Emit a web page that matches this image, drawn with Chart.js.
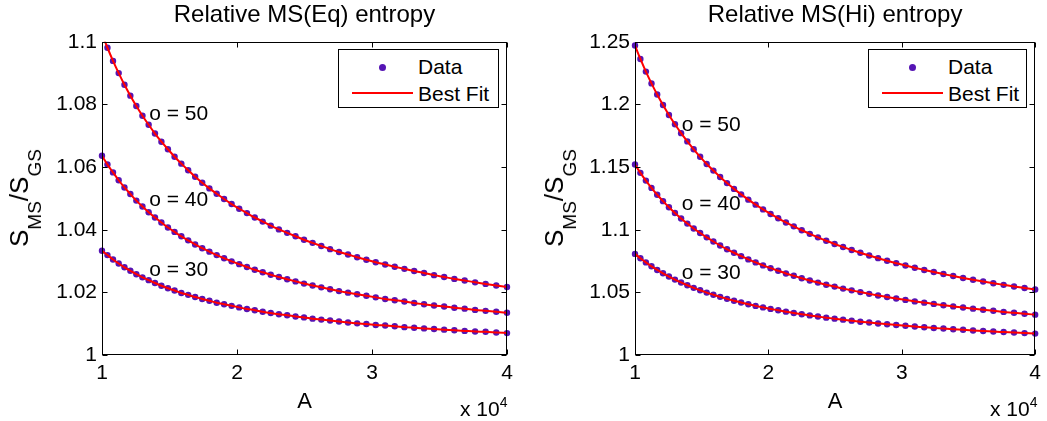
<!DOCTYPE html>
<html>
<head>
<meta charset="utf-8">
<title>Relative MS entropy</title>
<script src="https://cdn.jsdelivr.net/npm/chart.js@4.4.1/dist/chart.umd.min.js"></script>
<style>
  body { margin: 0; background: #fff; font-family: "Liberation Sans", Arial, sans-serif; color: #000; }
  #wrap { position: relative; width: 1047px; height: 421px; overflow: hidden; background: #fff; }
  canvas { position: absolute; top: 0; }
  .ylab { position: absolute; font-size: 26px; line-height: 26px; white-space: nowrap;
          transform: translate(-50%, -50%) rotate(-90deg); }
  .ylab sub { font-size: 19px; vertical-align: -13px; line-height: 19px; }
  .legend { position: absolute; top: 49px; height: 59px; box-sizing: border-box;
            border: 1px solid #000; background: #fff; font-size: 21px; }
  .legend .dot { position: absolute; left: 40px; top: 14px; width: 7px; height: 7px;
                 border-radius: 50%; background: #5514b4; }
  .legend .line { position: absolute; left: 13px; top: 42px; width: 61px; height: 2px; background: #ff0000; }
  .legend .txt { position: absolute; left: 79px; line-height: 24px; }
  .exp { position: absolute; top: 398px; font-size: 21px; line-height: 21px; white-space: nowrap; }
  .exp span { font-size: 14px; position: relative; top: -9px; }
</style>
</head>
<body>
<div id="wrap">
  <canvas id="eqChart" width="523" height="421" style="left:0px"></canvas>
  <canvas id="hiChart" width="524" height="421" style="left:523px"></canvas>

  <div class="ylab" style="left:25px; top:198px">S<sub>MS</sub>/S<sub>GS</sub></div>
  <div class="ylab" style="left:560px; top:198px">S<sub>MS</sub>/S<sub>GS</sub></div>

  <div class="legend" style="left:338px; width:161px">
    <div class="dot"></div><div class="txt" style="top:5px">Data</div>
    <div class="line"></div><div class="txt" style="top:32px">Best Fit</div>
  </div>
  <div class="legend" style="left:868px; width:159px">
    <div class="dot"></div><div class="txt" style="top:5px">Data</div>
    <div class="line"></div><div class="txt" style="top:32px">Best Fit</div>
  </div>

  <div class="exp" style="left:460px">x 10<span>4</span></div>
  <div class="exp" style="left:990px">x 10<span>4</span></div>
</div>

<script>
// A values, in units of 10^4
const A = [1.0000, 1.0404, 1.0816, 1.1236, 1.1664, 1.2100, 1.2544, 1.2996, 1.3456, 1.3924,
           1.4400, 1.4884, 1.5376, 1.5876, 1.6384, 1.6900, 1.7424, 1.7956, 1.8496, 1.9044,
           1.9600, 2.0164, 2.0736, 2.1316, 2.1904, 2.2500, 2.3104, 2.3716, 2.4336, 2.4964,
           2.5600, 2.6244, 2.6896, 2.7556, 2.8224, 2.8900, 2.9584, 3.0276, 3.0976, 3.1684,
           3.2400, 3.3124, 3.3856, 3.4596, 3.5344, 3.6100, 3.6864, 3.7636, 3.8416, 3.9204,
           4.0000];

// Relative MS(Eq) entropy
const eq50 = [1.1025, 1.0981, 1.0939, 1.0900, 1.0863, 1.0828, 1.0795, 1.0764, 1.0735, 1.0707,
              1.0681, 1.0657, 1.0633, 1.0611, 1.0590, 1.0569, 1.0550, 1.0532, 1.0515, 1.0498,
              1.0482, 1.0467, 1.0453, 1.0439, 1.0426, 1.0413, 1.0401, 1.0390, 1.0379, 1.0368,
              1.0358, 1.0348, 1.0338, 1.0329, 1.0321, 1.0312, 1.0304, 1.0296, 1.0289, 1.0282,
              1.0275, 1.0268, 1.0262, 1.0255, 1.0249, 1.0243, 1.0238, 1.0232, 1.0227, 1.0222,
              1.0217];
const eq40 = [1.0636, 1.0608, 1.0583, 1.0558, 1.0535, 1.0514, 1.0493, 1.0474, 1.0456, 1.0439,
              1.0423, 1.0407, 1.0393, 1.0379, 1.0366, 1.0353, 1.0341, 1.0330, 1.0319, 1.0309,
              1.0299, 1.0290, 1.0281, 1.0272, 1.0264, 1.0256, 1.0249, 1.0242, 1.0235, 1.0228,
              1.0222, 1.0216, 1.0210, 1.0204, 1.0199, 1.0194, 1.0189, 1.0184, 1.0179, 1.0175,
              1.0171, 1.0166, 1.0162, 1.0158, 1.0155, 1.0151, 1.0148, 1.0144, 1.0141, 1.0138,
              1.0135];
const eq30 = [1.0333, 1.0319, 1.0305, 1.0292, 1.0280, 1.0269, 1.0258, 1.0248, 1.0239, 1.0230,
              1.0221, 1.0213, 1.0206, 1.0198, 1.0192, 1.0185, 1.0179, 1.0173, 1.0167, 1.0162,
              1.0157, 1.0152, 1.0147, 1.0143, 1.0138, 1.0134, 1.0130, 1.0127, 1.0123, 1.0120,
              1.0116, 1.0113, 1.0110, 1.0107, 1.0104, 1.0101, 1.0099, 1.0096, 1.0094, 1.0092,
              1.0089, 1.0087, 1.0085, 1.0083, 1.0081, 1.0079, 1.0077, 1.0075, 1.0074, 1.0072,
              1.0070];

// Relative MS(Hi) entropy
const hi50 = [1.2470, 1.2363, 1.2262, 1.2168, 1.2079, 1.1995, 1.1916, 1.1842, 1.1771, 1.1705,
              1.1642, 1.1582, 1.1525, 1.1472, 1.1421, 1.1372, 1.1326, 1.1282, 1.1240, 1.1200,
              1.1162, 1.1126, 1.1091, 1.1058, 1.1027, 1.0996, 1.0967, 1.0939, 1.0912, 1.0886,
              1.0862, 1.0838, 1.0816, 1.0794, 1.0773, 1.0752, 1.0733, 1.0714, 1.0696, 1.0679,
              1.0662, 1.0646, 1.0630, 1.0615, 1.0601, 1.0587, 1.0573, 1.0560, 1.0547, 1.0535,
              1.0523];
const hi40 = [1.1520, 1.1454, 1.1392, 1.1334, 1.1279, 1.1228, 1.1179, 1.1133, 1.1090, 1.1049,
              1.1010, 1.0974, 1.0939, 1.0906, 1.0874, 1.0844, 1.0816, 1.0789, 1.0763, 1.0739,
              1.0715, 1.0693, 1.0672, 1.0651, 1.0632, 1.0613, 1.0595, 1.0578, 1.0561, 1.0546,
              1.0530, 1.0516, 1.0502, 1.0488, 1.0475, 1.0463, 1.0451, 1.0440, 1.0428, 1.0418,
              1.0408, 1.0397, 1.0388, 1.0379, 1.0370, 1.0361, 1.0353, 1.0344, 1.0337, 1.0329,
              1.0322];
const hi30 = [1.0807, 1.0772, 1.0739, 1.0708, 1.0679, 1.0652, 1.0626, 1.0602, 1.0579, 1.0557,
              1.0536, 1.0517, 1.0498, 1.0481, 1.0464, 1.0448, 1.0433, 1.0419, 1.0405, 1.0392,
              1.0380, 1.0368, 1.0357, 1.0346, 1.0335, 1.0325, 1.0316, 1.0307, 1.0298, 1.0290,
              1.0282, 1.0274, 1.0266, 1.0259, 1.0252, 1.0246, 1.0239, 1.0233, 1.0227, 1.0222,
              1.0216, 1.0211, 1.0206, 1.0201, 1.0196, 1.0192, 1.0187, 1.0183, 1.0179, 1.0175,
              1.0171];

const curveLabels = ['o = 50', 'o = 40', 'o = 30'];
// where each label sits, in data coordinates
const eqLabelAt = [[1.35, 1.0770], [1.35, 1.0495], [1.35, 1.0272]];
const hiLabelAt = [[1.35, 1.1837], [1.35, 1.1206], [1.35, 1.0651]];

const FONT = '"Liberation Sans", Arial, sans-serif';
const DOT = '#5514b4';
const FIT = '#ff0000';

function toPoints(ys) {
    return A.map((a, i) => ({ x: a, y: ys[i] }));
}

// box round the plot with small inward ticks on all four sides
const framePlugin = {
    id: 'frame',
    afterDatasetsDraw(chart) {
        const { ctx, chartArea: a, scales } = chart;
        const L = Math.round(a.left) + 0.5, R = Math.round(a.right) - 0.5;
        const T = Math.round(a.top) + 0.5, B = Math.round(a.bottom) - 0.5;
        ctx.save();
        ctx.strokeStyle = '#000';
        ctx.lineWidth = 1;
        ctx.beginPath();
        scales.x.ticks.forEach(t => {
            const px = Math.round(scales.x.getPixelForValue(t.value)) + 0.5;
            ctx.moveTo(px, B); ctx.lineTo(px, B - 5);
            ctx.moveTo(px, T); ctx.lineTo(px, T + 5);
        });
        scales.y.ticks.forEach(t => {
            const py = Math.round(scales.y.getPixelForValue(t.value)) + 0.5;
            ctx.moveTo(L, py); ctx.lineTo(L + 5, py);
            ctx.moveTo(R, py); ctx.lineTo(R - 5, py);
        });
        ctx.stroke();
        ctx.strokeRect(L, T, R - L, B - T);
        ctx.restore();
    }
};

// the "o = .." texts next to each curve
const notesPlugin = {
    id: 'notes',
    afterDatasetsDraw(chart, args, opts) {
        const { ctx, scales } = chart;
        ctx.save();
        ctx.fillStyle = '#000';
        ctx.font = '21px ' + FONT;
        ctx.textAlign = 'left';
        ctx.textBaseline = 'middle';
        opts.at.forEach((p, i) => {
            ctx.fillText(curveLabels[i], scales.x.getPixelForValue(p[0]), scales.y.getPixelForValue(p[1]));
        });
        ctx.restore();
    }
};

function makeChart(id, title, series, yMax, yStep, yWidth, rightPad, labelAt) {
    const datasets = [];
    series.forEach(s => {
        datasets.push({
            label: 'Best Fit',
            data: toPoints(s),
            showLine: true,
            borderColor: FIT,
            borderWidth: 2,
            pointRadius: 0,
            cubicInterpolationMode: 'monotone',
            order: 0
        });
        datasets.push({
            label: 'Data',
            data: toPoints(s),
            showLine: false,
            pointRadius: 3.2,
            pointBackgroundColor: DOT,
            pointBorderWidth: 0,
            clip: 4,
            order: 1
        });
    });

    return new Chart(document.getElementById(id), {
        type: 'scatter',
        data: { datasets: datasets },
        options: {
            responsive: false,
            animation: false,
            devicePixelRatio: 1,
            layout: { padding: { top: 0, left: 0, right: rightPad, bottom: 0 } },
            plugins: {
                legend: { display: false },
                tooltip: { enabled: false },
                title: {
                    display: true,
                    text: title,
                    fullSize: false,
                    color: '#000',
                    font: { family: FONT, size: 24, weight: 'normal' },
                    padding: { top: 1, bottom: 12 }
                },
                notes: { at: labelAt }
            },
            scales: {
                x: {
                    type: 'linear',
                    min: 1,
                    max: 4,
                    grid: { display: false, drawTicks: false },
                    border: { display: false },
                    ticks: {
                        stepSize: 1,
                        color: '#000',
                        padding: 6,
                        maxRotation: 0,
                        font: { family: FONT, size: 21 }
                    },
                    title: {
                        display: true,
                        text: 'A',
                        color: '#000',
                        font: { family: FONT, size: 22 },
                        padding: { top: 0, bottom: 6 }
                    },
                    afterFit(scale) { scale.height = 66; }
                },
                y: {
                    min: 1,
                    max: yMax,
                    grid: { display: false, drawTicks: false },
                    border: { display: false },
                    ticks: {
                        stepSize: yStep,
                        color: '#000',
                        padding: 5,
                        font: { family: FONT, size: 21 },
                        callback: v => String(Number(v.toFixed(2)))
                    },
                    afterFit(scale) { scale.width = yWidth; }
                }
            }
        },
        plugins: [framePlugin, notesPlugin]
    });
}

function main() {
    makeChart('eqChart', 'Relative MS(Eq) entropy', [eq50, eq40, eq30], 1.1, 0.02, 102, 16, eqLabelAt);
    makeChart('hiChart', 'Relative MS(Hi) entropy', [hi50, hi40, hi30], 1.25, 0.05, 112, 10, hiLabelAt);
}

document.addEventListener('DOMContentLoaded', function() {
    main();
});
</script>
</body>
</html>
